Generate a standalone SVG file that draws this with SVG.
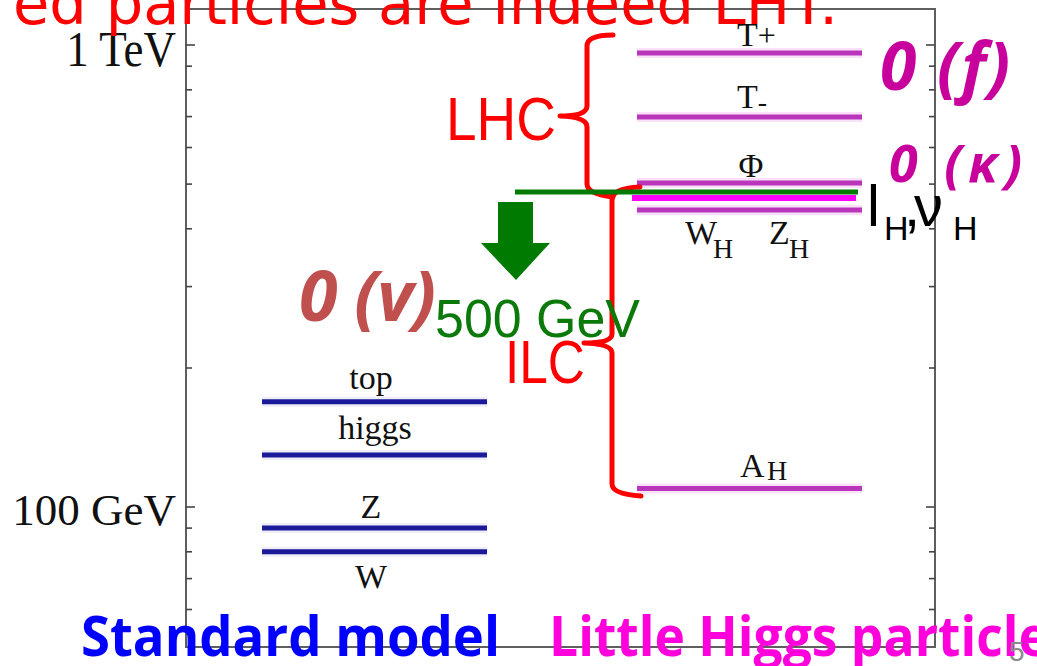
<svg xmlns="http://www.w3.org/2000/svg" width="1037" height="666" viewBox="0 0 1037 666">
<style>
.axis{stroke:#5e5e5e;stroke-width:2;fill:none}
.tick{stroke:#444;stroke-width:1.6}
.ax{font-family:"Liberation Serif",serif;font-size:45px;fill:#111}
.lab{font-family:"Liberation Serif",serif;font-size:34px;fill:#111}
.sub{font-family:"Liberation Serif",serif;font-size:28px;fill:#111}
.sm{stroke:#1a1a9a;stroke-width:5;stroke-linecap:butt}
.smh{stroke:#eeeef8;stroke-width:10}
.lh{stroke:#b935b9;stroke-width:5}
.lhh{stroke:#f9e2f9;stroke-width:10}
.br{stroke:#ff0000;stroke-width:5;fill:none;stroke-linecap:round;stroke-linejoin:round}
.red{font-family:"Liberation Sans",sans-serif;font-size:62px;fill:#ff0000}
.ord{font-family:"Open Sans",sans-serif;font-weight:bold;font-style:italic}
.cap{font-family:"Open Sans",sans-serif;font-weight:bold;font-size:56px}
</style>
<rect width="1037" height="666" fill="#ffffff"/>
<g id="frame">
<rect class="axis" x="186" y="9" width="749" height="638"/>
<g id="left-ticks">
<line class="tick" x1="186" y1="45" x2="195" y2="45"/>
<line class="tick" x1="186" y1="66.2" x2="192" y2="66.2"/>
<line class="tick" x1="186" y1="89.8" x2="192" y2="89.8"/>
<line class="tick" x1="186" y1="116.6" x2="192" y2="116.6"/>
<line class="tick" x1="186" y1="147.5" x2="192" y2="147.5"/>
<line class="tick" x1="186" y1="184.1" x2="192" y2="184.1"/>
<line class="tick" x1="186" y1="228.8" x2="192" y2="228.8"/>
<line class="tick" x1="186" y1="286.6" x2="192" y2="286.6"/>
<line class="tick" x1="186" y1="368" x2="192" y2="368"/>
<line class="tick" x1="186" y1="507" x2="195" y2="507"/>
<line class="tick" x1="186" y1="528.1" x2="192" y2="528.1"/>
<line class="tick" x1="186" y1="551.8" x2="192" y2="551.8"/>
<line class="tick" x1="186" y1="578.6" x2="192" y2="578.6"/>
<line class="tick" x1="186" y1="609.5" x2="192" y2="609.5"/>
</g>
<g id="right-ticks">
<line class="tick" x1="935" y1="45" x2="926" y2="45"/>
<line class="tick" x1="935" y1="66.2" x2="929" y2="66.2"/>
<line class="tick" x1="935" y1="89.8" x2="929" y2="89.8"/>
<line class="tick" x1="935" y1="116.6" x2="929" y2="116.6"/>
<line class="tick" x1="935" y1="147.5" x2="929" y2="147.5"/>
<line class="tick" x1="935" y1="184.1" x2="929" y2="184.1"/>
<line class="tick" x1="935" y1="228.8" x2="929" y2="228.8"/>
<line class="tick" x1="935" y1="286.6" x2="929" y2="286.6"/>
<line class="tick" x1="935" y1="368" x2="929" y2="368"/>
<line class="tick" x1="935" y1="507" x2="926" y2="507"/>
<line class="tick" x1="935" y1="528.1" x2="929" y2="528.1"/>
<line class="tick" x1="935" y1="551.8" x2="929" y2="551.8"/>
<line class="tick" x1="935" y1="578.6" x2="929" y2="578.6"/>
<line class="tick" x1="935" y1="609.5" x2="929" y2="609.5"/>
</g>
<text class="ax" x="176" y="66" text-anchor="end" transform="translate(0,66) scale(1,1.12) translate(0,-66)">1 TeV</text>
<text class="ax" x="176" y="525" text-anchor="end">100 GeV</text>
</g>
<text id="title" x="13" y="24" font-family="DejaVu Sans,sans-serif" font-size="58" fill="#ff0000" textLength="825" lengthAdjust="spacingAndGlyphs">ed particles are indeed LHT.</text>
<g id="sm-levels">
<line class="smh" x1="262" y1="401.7" x2="487" y2="401.7"/>
<line class="smh" x1="262" y1="455" x2="487" y2="455"/>
<line class="smh" x1="262" y1="528" x2="487" y2="528"/>
<line class="smh" x1="262" y1="551.7" x2="487" y2="551.7"/>
<g id="top"><line class="sm" x1="262" y1="401.7" x2="487" y2="401.7"/><text class="lab" x="371" y="389" text-anchor="middle">top</text></g>
<g id="higgs"><line class="sm" x1="262" y1="455" x2="487" y2="455"/><text class="lab" x="375" y="439" text-anchor="middle">higgs</text></g>
<g id="Z"><line class="sm" x1="262" y1="528" x2="487" y2="528"/><text class="lab" x="371" y="518" text-anchor="middle">Z</text></g>
<g id="W"><line class="sm" x1="262" y1="551.7" x2="487" y2="551.7"/><text class="lab" x="371" y="588" text-anchor="middle">W</text></g>
</g>
<g id="lh-levels">
<line class="lhh" x1="637" y1="53" x2="862" y2="53"/>
<line class="lhh" x1="637" y1="117" x2="862" y2="117"/>
<line class="lhh" x1="637" y1="183" x2="862" y2="183"/>
<line class="lhh" x1="637" y1="210" x2="862" y2="210"/>
<line class="lhh" x1="637" y1="488.5" x2="862" y2="488.5"/>
<g id="Tplus"><line class="lh" x1="637" y1="53" x2="862" y2="53"/><text class="lab" x="737" y="46" font-size="36">T<tspan font-size="32">+</tspan></text></g>
<g id="Tminus"><line class="lh" x1="637" y1="117" x2="862" y2="117"/><text class="lab" x="737" y="108" font-size="36">T<tspan font-size="28" dy="3">-</tspan></text></g>
<g id="Phi"><line class="lh" x1="637" y1="183" x2="862" y2="183"/><text class="lab" x="751" y="177" text-anchor="middle">Φ</text></g>
<g id="WHZH"><line class="lh" x1="637" y1="210" x2="862" y2="210"/>
<text class="lab" x="685" y="244" font-size="33">W<tspan class="sub" x="713" y="258">H</tspan></text>
<text class="lab" x="769" y="244" font-size="33">Z<tspan class="sub" x="789" y="258">H</tspan></text></g>
<g id="AH"><line class="lh" x1="637" y1="488.5" x2="862" y2="488.5"/><text class="lab" x="740" y="477" font-size="36">A<tspan class="sub" x="767" y="480" font-size="26">H</tspan></text></g>
<line id="lHnuH-line" x1="632" y1="198" x2="856" y2="198" stroke="#ff00ff" stroke-width="6"/>
</g>
<g id="brackets">
<path id="lhc-bracket" class="br" d="M613 35 Q587 35 587 46 L587 106 Q587 116 560 116 Q587 117 587 127 L587 184 Q587 194 613 197"/>
<path id="ilc-bracket" class="br" d="M640 187 Q612 188 612 200 L612 334 Q612 343 584 343 Q612 344 612 353 L612 484 Q612 494 641 496"/>
</g>
<g id="labels-500">
<text x="435" y="337" font-family="Liberation Sans,sans-serif" font-size="53" fill="#0b7a0b" textLength="205" lengthAdjust="spacingAndGlyphs">500 GeV</text>
</g>
<g id="LHC"><text class="red" x="446" y="140" textLength="110" lengthAdjust="spacingAndGlyphs">LHC</text></g>
<g id="ILC"><text class="red" x="505" y="383" textLength="80" lengthAdjust="spacingAndGlyphs">ILC</text></g>
<g id="ilc-line">
<line x1="515" y1="192" x2="858" y2="192" stroke="#007a00" stroke-width="5"/>
<polygon points="498,202 533,202 533,243 550,243 516,280 481,243 498,243" fill="#007a00"/>
</g>
<g id="orders">
<text class="ord" x="880" y="90" font-size="66" fill="#c8009c" textLength="130" lengthAdjust="spacing">0 (f)</text>
<text class="ord" x="889" y="182" font-size="52" fill="#c8009c" textLength="133" lengthAdjust="spacing">0 (κ)</text>
<text class="ord" x="299" y="321" font-size="70" fill="#c0504d" textLength="137" lengthAdjust="spacing">0 (v)</text>
</g>
<g id="lHnuH" font-family="Liberation Sans,sans-serif" fill="#000">
<text x="867" y="226" font-size="58">l</text>
<text x="884" y="240" font-size="34">H</text>
<text x="904" y="226" font-size="58">,</text>
<text x="914" y="226" font-size="58">ν</text>
<text x="953" y="240" font-size="34">H</text>
</g>
<g id="captions">
<text class="cap" x="81" y="656" fill="#0000ff" textLength="419" lengthAdjust="spacingAndGlyphs">Standard model</text>
<text class="cap" x="549" y="656" fill="#ff00dd" textLength="500" lengthAdjust="spacingAndGlyphs">Little Higgs particle</text>
<text x="1009" y="661" font-family="Liberation Sans,sans-serif" font-size="28" fill="#8a8a8a">5</text>
</g>
</svg>
